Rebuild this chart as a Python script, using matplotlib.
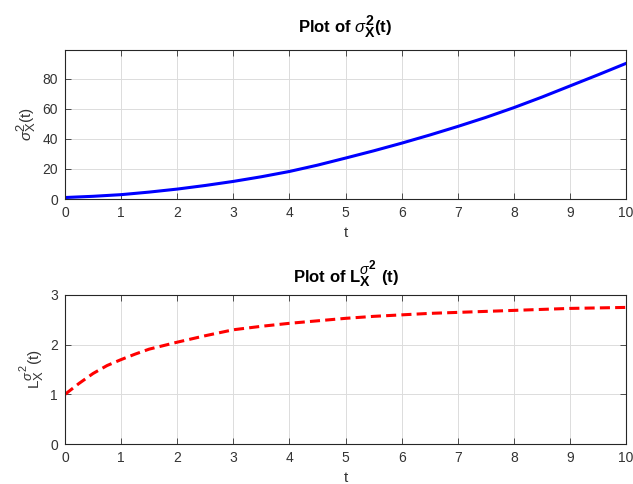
import matplotlib
matplotlib.use("Agg")
import matplotlib.pyplot as plt
import matplotlib._mathtext as mtext

plt.rcParams["font.family"] = ["Liberation Sans", "DejaVu Sans"]
plt.rcParams["mathtext.fontset"] = "custom"
plt.rcParams["mathtext.rm"] = "Liberation Sans"
plt.rcParams["mathtext.it"] = "Liberation Sans:italic"
plt.rcParams["mathtext.bf"] = "Liberation Sans:bold"
mtext.SHRINK_FACTOR = 0.85  # MATLAB-style scripts are bigger than mathtext's

# values
t_s = [0, 0.5, 1, 1.5, 2, 2.5, 3, 3.5, 4, 4.5, 5,
       5.5, 6, 6.5, 7, 7.5, 8, 8.5, 9, 9.5, 10]
sigma2 = [1.0, 1.8, 2.9, 4.6, 6.6, 9.0, 11.7, 14.8, 18.3, 22.5, 27.2,
          32.0, 37.1, 42.5, 48.2, 54.2, 60.7, 67.7, 75.1, 82.5, 90.1]
t_l = [0, 0.25, 0.5, 0.75, 1, 1.25, 1.5, 1.75, 2, 2.5, 3, 3.5, 4, 4.5, 5,
       5.5, 6, 6.5, 7, 7.5, 8, 8.5, 9, 9.5, 10]
L = [1.00, 1.22, 1.42, 1.58, 1.70, 1.81, 1.91, 1.98, 2.05, 2.18, 2.30, 2.37,
     2.43, 2.48, 2.53, 2.57, 2.60, 2.63, 2.65, 2.67, 2.69, 2.71, 2.73, 2.74, 2.75]

fig = plt.figure(figsize=(6.33, 4.84), dpi=100)
ax1 = fig.add_axes([0.1027, 0.5888, 0.8863, 0.3079])
ax2 = fig.add_axes([0.1027, 0.0826, 0.8863, 0.3079])

ax1.plot(t_s, sigma2, color="#0000ff", linewidth=2.2)
ax2.plot(t_l, L, color="#ff0000", linewidth=2.2, linestyle=(0, (3.3, 1.7)))

for ax in (ax1, ax2):
    ax.set_xlim(0, 10)
    ax.set_xticks(range(0, 11))
    ax.grid(True, color="#dcdcdc", linewidth=0.7)
    ax.tick_params(direction="in", top=True, right=True, labelsize=10,
                   colors="#333333", length=4, width=0.6, pad=5)
    for s in ax.spines.values():
        s.set_color("#262626")
        s.set_linewidth(0.8)
    ax.set_xlabel("t", fontsize=11, color="#333333", labelpad=4)

ax1.set_ylim(0, 99)
ax1.set_yticks([0, 20, 40, 60, 80])
ax2.set_ylim(0, 3)
ax2.set_yticks([0, 1, 2, 3])

ax1.set_title(r"Plot of $\sigma^{\mathbf{2}}_{\mathbf{X}}$(t)",
              fontsize=12, fontweight="bold", pad=12)
ax2.set_title(r"Plot of L$_{\mathbf{X}}^{\sigma^{\mathbf{2}}}$ (t)",
              fontsize=12, fontweight="bold", pad=9)
ax1.set_ylabel(r"$\sigma^{2}_{\mathrm{X}}$(t)", fontsize=11, color="#333333", labelpad=3)
ax2.set_ylabel(r"L$_{\mathrm{X}}^{\sigma^{2}}$(t)", fontsize=11, color="#333333", labelpad=3)

fig.savefig("out.png", dpi=100, facecolor="white")
